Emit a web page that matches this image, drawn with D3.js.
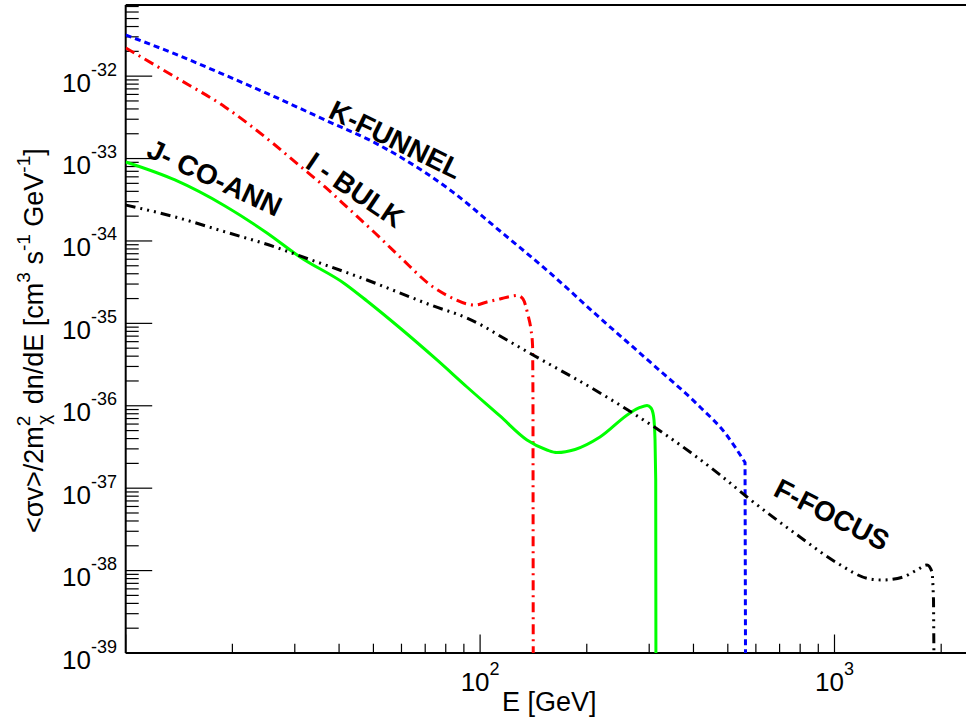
<!DOCTYPE html>
<html>
<head>
<meta charset="utf-8">
<script src="https://cdn.jsdelivr.net/npm/d3@7"></script>
<style>
  html, body { margin: 0; padding: 0; background: #fff; }
  svg { display: block; font-family: "Liberation Sans", Arial, Helvetica, sans-serif; }
</style>
</head>
<body>
<svg id="chart" width="966" height="717"></svg>
<script>
// ---------------- data ----------------
const xTickLabels = [{v: 100, base: "10", exp: "2"}, {v: 1000, base: "10", exp: "3"}];
const yTickExps = ["-32", "-33", "-34", "-35", "-36", "-37", "-38", "-39"];
const yTickValues = [1e-32, 1e-33, 1e-34, 1e-35, 1e-36, 1e-37, 1e-38, 1e-39];

// K-FUNNEL (blue, dashed)
const funnelE = [10, 13.77, 19.06, 26.38, 36.51, 50.53, 59.43, 82.25, 113.8, 157.5, 217.9, 301.6, 417.4, 491.0, 559.2, 561.6];
const funnelV = [3.16e-32, 1.86e-32, 1.03e-32, 5.59e-33, 2.94e-33, 1.55e-33, 1.05e-33, 4.16e-34, 1.32e-34, 4.09e-35, 1.16e-35, 3.40e-36, 9.67e-37, 4.68e-37, 2.05e-37, 1e-40];

// I - BULK (red, dash-dot)
const bulkE = [10, 13.77, 19.06, 26.38, 31.03, 36.51, 42.95, 50.53, 59.43, 73.63, 82.25, 91.83, 96.74, 104.6, 113.8, 123.8, 127.9, 132.1, 136.5, 139.2, 140.6, 141.0, 141.3];
const bulkV = [2.20e-32, 9.78e-33, 4.23e-33, 1.46e-33, 8.13e-34, 4.52e-34, 2.38e-34, 1.25e-34, 6.39e-35, 2.77e-35, 2.09e-35, 1.72e-35, 1.67e-35, 1.82e-35, 1.98e-35, 2.15e-35, 2.18e-35, 1.98e-35, 1.26e-35, 8.32e-36, 5.47e-36, 1.18e-36, 1e-40];

// J- CO-ANN (green, solid)
const coannE = [10, 13.77, 19.06, 25.04, 31.03, 41.57, 47.96, 59.43, 75.57, 91.83, 113.8, 135.6, 154.4, 164.8, 185.3, 217.9, 264.9, 282.7, 295.8, 303.6, 308.6, 311.6, 313.0, 313.6];
const coannV = [9.09e-34, 5.50e-34, 2.66e-34, 1.25e-34, 6.39e-35, 3.01e-35, 1.87e-35, 8.79e-36, 3.60e-36, 1.69e-36, 7.52e-37, 3.85e-37, 2.91e-37, 2.71e-37, 2.95e-37, 4.18e-37, 8.18e-37, 9.54e-37, 1.01e-36, 9.40e-37, 7.52e-37, 3.85e-37, 1.26e-37, 1e-40];

// F-FOCUS (black, dash-dot-dot-dot)
const focusE = [10, 13.77, 19.06, 26.38, 31.03, 47.96, 73.63, 91.83, 101.9, 113.8, 141.0, 217.9, 328.2, 475.3, 566.4, 799.0, 1016.5, 1259.7, 1370.8, 1561.0, 1709.4, 1823.9, 1884.1, 1902.8, 1915.1];
const focusV = [2.73e-34, 1.96e-34, 1.29e-34, 8.45e-35, 6.58e-35, 3.36e-35, 1.63e-35, 1.16e-35, 9.30e-36, 7.03e-36, 4.14e-36, 1.43e-36, 4.68e-37, 1.45e-37, 7.82e-38, 2.56e-38, 1.24e-38, 7.91e-39, 7.69e-39, 8.36e-39, 1.02e-38, 1.17e-38, 9.62e-39, 4.40e-39, 1e-40];

const seriesNames = ["K-FUNNEL", "I - BULK", "J- CO-ANN", "F-FOCUS"];

// ---------------- layout ----------------
const svg = d3.select("#chart");
const pLeft = 125.7, pTop = 5, pBottom = 653;
const decadeX = 354.4;
const xMax = 3000;
const pRight = pLeft + Math.log10(xMax / 10) * decadeX;

const x = d3.scaleLog().domain([10, xMax]).range([pLeft, pRight]);
const y = d3.scaleLog().domain([1e-39, 7.3e-32]).range([pBottom, pTop]);

svg.append("defs").append("clipPath").attr("id", "plotclip")
  .append("rect").attr("x", pLeft).attr("y", pTop).attr("width", pRight - pLeft).attr("height", pBottom - pTop);

// frame lines: left, bottom, top
svg.append("line").attr("x1", pLeft).attr("x2", pLeft).attr("y1", pTop).attr("y2", pBottom)
  .attr("stroke", "#000").attr("stroke-width", 2);
svg.append("line").attr("x1", pLeft).attr("x2", pRight).attr("y1", pBottom).attr("y2", pBottom)
  .attr("stroke", "#000").attr("stroke-width", 2);
svg.append("line").attr("x1", pLeft).attr("x2", pRight).attr("y1", pTop).attr("y2", pTop)
  .attr("stroke", "#000").attr("stroke-width", 2);

// x ticks (inside, upward)
const xTicks = x.ticks();
const gx = svg.append("g").attr("transform", `translate(0,${pBottom})`)
  .call(d3.axisBottom(x).tickValues(xTicks).tickSize(0).tickFormat(""));
gx.select(".domain").remove();
xTicks.forEach(t => {
  const major = Math.abs(Math.log10(t) - Math.round(Math.log10(t))) < 1e-9;
  svg.append("line").attr("x1", x(t)).attr("x2", x(t))
    .attr("y1", pBottom).attr("y2", pBottom - (major ? 18.5 : 9.3))
    .attr("stroke", "#000").attr("stroke-width", 1.2);
});
xTickLabels.forEach(d => {
  const t = svg.append("text").attr("x", x(d.v)).attr("y", 691)
    .attr("text-anchor", "middle").attr("font-size", 26);
  t.append("tspan").text(d.base);
  t.append("tspan").attr("font-size", 18).attr("dy", -16).text(d.exp);
});

// y ticks (inside, rightward)
const yTicks = y.ticks();
const gy = svg.append("g").attr("transform", `translate(${pLeft},0)`)
  .call(d3.axisLeft(y).tickValues(yTicks).tickSize(0).tickFormat(""));
gy.select(".domain").remove();
yTicks.forEach(t => {
  const major = Math.abs(Math.log10(t) - Math.round(Math.log10(t))) < 1e-9;
  svg.append("line").attr("x1", pLeft).attr("x2", pLeft + (major ? 26.5 : 13))
    .attr("y1", y(t)).attr("y2", y(t))
    .attr("stroke", "#000").attr("stroke-width", 1.2);
});
yTickValues.forEach((v, i) => {
  const t = svg.append("text").attr("x", 117).attr("y", y(v) + 15.5)
    .attr("text-anchor", "end").attr("font-size", 26);
  t.append("tspan").text("10");
  t.append("tspan").attr("font-size", 18).attr("dy", -16).text(yTickExps[i]);
});

// axis titles
svg.append("text").attr("x", 502).attr("y", 711).attr("font-size", 27).text("E [GeV]");

const yt = svg.append("text").attr("transform", "translate(43,533) rotate(-90)")
  .attr("font-size", 27);
yt.append("tspan").text("<σv>/2m");
yt.append("tspan").attr("font-size", 19).attr("dy", -13).text("2");
yt.append("tspan").attr("font-size", 19).attr("dx", -9).attr("dy", 20).text("χ");
yt.append("tspan").attr("dx", 3).attr("dy", -7).text(" dn/dE  [cm");
yt.append("tspan").attr("font-size", 19).attr("dy", -13).text("3");
yt.append("tspan").attr("dy", 13).text(" s");
yt.append("tspan").attr("font-size", 19).attr("dy", -13).text("-1");
yt.append("tspan").attr("dy", 13).text(" GeV");
yt.append("tspan").attr("font-size", 19).attr("dy", -13).text("-1");
yt.append("tspan").attr("dy", 13).text("]");

// curves: smooth through the read points, then a straight cut-off drop
const line = d3.line().x(d => x(d[0])).y(d => y(d[1])).curve(d3.curveMonotoneX);
const plot = svg.append("g").attr("clip-path", "url(#plotclip)");
const series = [
  {E: funnelE, V: funnelV, color: "#0000ff", dash: "6,4"},
  {E: bulkE, V: bulkV, color: "#ff0000", dash: "10,5,2,5"},
  {E: coannE, V: coannV, color: "#00ff00", dash: null},
  {E: focusE, V: focusV, color: "#000000", dash: "10,5,2,5,2,5,2,5"}
];
series.forEach(s => {
  const pts = s.E.map((e, i) => [e, s.V[i]]);
  const last = pts[pts.length - 1];
  const d = line(pts.slice(0, -1)) + "L" + x(last[0]) + "," + y(last[1]);
  const p = plot.append("path").attr("d", d).attr("fill", "none")
    .attr("stroke", s.color).attr("stroke-width", 3);
  if (s.dash) p.attr("stroke-dasharray", s.dash);
});

// curve labels
const labelPos = [
  {name: seriesNames[0], x: 327, y: 117, a: 26},
  {name: seriesNames[1], x: 304, y: 167, a: 34},
  {name: seriesNames[2], x: 145, y: 156, a: 25},
  {name: seriesNames[3], x: 772, y: 495, a: 27}
];
labelPos.forEach(l => {
  svg.append("text").attr("transform", `translate(${l.x},${l.y}) rotate(${l.a})`)
    .attr("font-size", 28).attr("font-weight", "bold").text(l.name);
});
</script>
</body>
</html>
